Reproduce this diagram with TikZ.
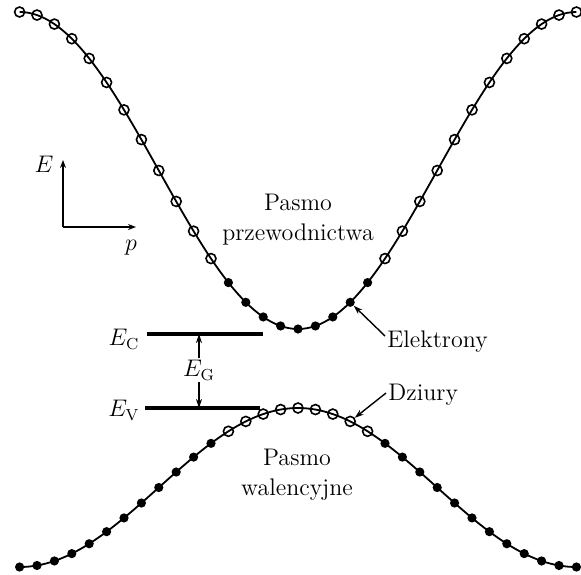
\documentclass[tikz,border=0pt]{standalone}
\usetikzlibrary{arrows.meta}

\begin{document}
\begin{tikzpicture}[
  x=0.5pt, y=-0.5pt,
  %--- style definitions ---
  band/.style     = {line width=0.9pt},
  level/.style    = {line width=1.6pt},
  hole/.style     = {circle, draw, line width=0.8pt, minimum size=5pt, inner sep=0pt},
  electron/.style = {circle, fill=black, minimum size=4.6pt, inner sep=0pt},
  txt/.style      = {font=\fontsize{12}{15}\selectfont, align=center, inner sep=1pt},
  axis/.style     = {-{Stealth[length=4pt,width=3pt]}, line width=0.7pt},
  pointer/.style  = {-{Stealth[length=4.5pt,width=3pt]}, line width=0.7pt},
]
\useasboundingbox (0,0) rectangle (581,574);

%% -- CONDUCTION BAND ---------------------------------------------------
\draw[band] plot[domain=-16:16, samples=129]
  ({298+17.4*\x}, {170.5+158.5*cos(11.25*\x)});
\foreach \k [evaluate=\k as \a using int(abs(\k))] in {-16,...,16}{
  \ifnum\a<5
    \node[electron] (cb\k) at ({298+17.4*\k}, {170.5+158.5*cos(11.25*\k)}) {};
  \else
    \node[hole] (cb\k) at ({298+17.4*\k}, {170.5+158.5*cos(11.25*\k)}) {};
  \fi
}

%% -- VALENCE BAND ------------------------------------------------------
\draw[band] plot[domain=-16:16, samples=129]
  ({298+17.4*\x}, {487.5-79.5*cos(11.25*\x)});
\foreach \k [evaluate=\k as \a using int(abs(\k))] in {-16,...,16}{
  \ifnum\a<5
    \node[hole] (vb\k) at ({298+17.4*\k}, {487.5-79.5*cos(11.25*\k)}) {};
  \else
    \node[electron] (vb\k) at ({298+17.4*\k}, {487.5-79.5*cos(11.25*\k)}) {};
  \fi
}

%% -- AXES --------------------------------------------------------------
\coordinate (orig) at (63,227);
\coordinate (eend) at (63,160);
\coordinate (pend) at (136,227);
\draw[axis] (orig) -- (eend);
\draw[axis] (orig) -- (pend);
\node[txt] (elab) at (44,164) {$E$};
\node[txt] (plab) at (131,248) {$p$};

%% -- LEVELS ------------------------------------------------------------
\coordinate (ecl) at (147,334);
\coordinate (ecr) at (263,334);
\coordinate (evl) at (145,408);
\coordinate (evr) at (260,408);
\draw[level] (ecl) -- (ecr);
\draw[level] (evl) -- (evr);
\node[txt] (ec) at (124,339) {$E_{\mathrm{C}}$};
\node[txt] (ev) at (124,410) {$E_{\mathrm{V}}$};
\node[txt] (eg) at (199,370) {$E_{\mathrm{G}}$};
\draw[pointer] (eg) -- (eg |- ecl);
\draw[pointer] (eg) -- (eg |- evl);

%% -- LABELS ------------------------------------------------------------
\node[txt] (cbname) at (298,220) {Pasmo\\przewodnictwa};
\node[txt] (vbname) at (297,475) {Pasmo\\walencyjne};
\node[txt, anchor=west] (elek) at (385,342) {Elektrony};
\node[txt, anchor=west] (dziu) at (386,395) {Dziury};

\draw[pointer] ([yshift=3pt]elek.west) -- (cb3);
\draw[pointer] ([yshift=1pt]dziu.west) -- (vb3);

\end{tikzpicture}
\end{document}
